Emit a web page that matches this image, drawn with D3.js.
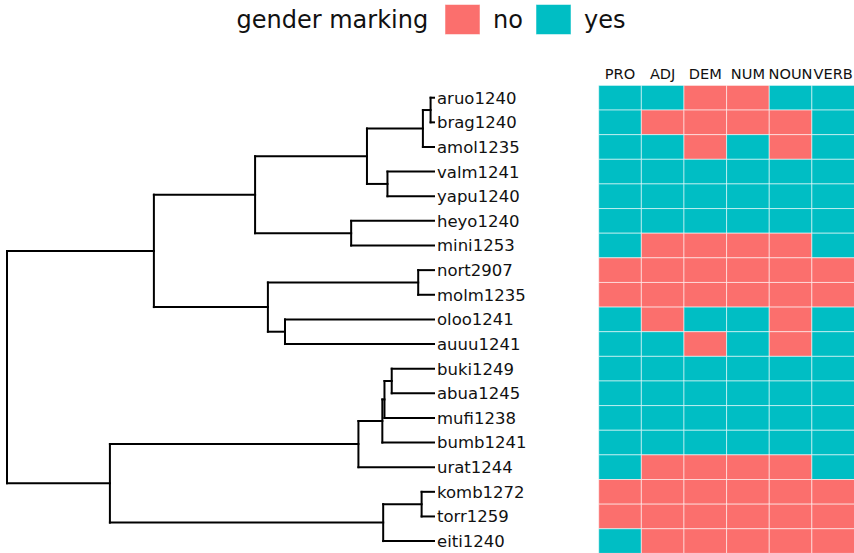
<!DOCTYPE html>
<html>
<head>
<meta charset="utf-8">
<script src="https://cdn.jsdelivr.net/npm/d3@7"></script>
<style>
  html, body { margin: 0; padding: 0; background: #fff; }
  svg { display: block; font-family: 'DejaVu Sans', sans-serif; }
</style>
</head>
<body>
<div id="chart"></div>
<script>
(function () {
  'use strict';

  // tip order, top to bottom
  var tipNames = [
    'aruo1240', 'brag1240', 'amol1235', 'valm1241', 'yapu1240', 'heyo1240',
    'mini1253', 'nort2907', 'molm1235', 'oloo1241', 'auuu1241', 'buki1249',
    'abua1245', 'mufi1238', 'bumb1241', 'urat1244', 'komb1272', 'torr1259',
    'eiti1240'
  ];

  var features = ['PRO', 'ADJ', 'DEM', 'NUM', 'NOUN', 'VERB'];

  // 1 = yes, 0 = no (same order as tipNames / features)
  var genderMarking = [
    [1, 1, 0, 0, 1, 1],
    [1, 0, 0, 0, 0, 1],
    [1, 1, 0, 1, 0, 1],
    [1, 1, 1, 1, 1, 1],
    [1, 1, 1, 1, 1, 1],
    [1, 1, 1, 1, 1, 1],
    [1, 0, 0, 0, 0, 1],
    [0, 0, 0, 0, 0, 0],
    [0, 0, 0, 0, 0, 0],
    [1, 0, 1, 1, 0, 1],
    [1, 1, 0, 1, 0, 1],
    [1, 1, 1, 1, 1, 1],
    [1, 1, 1, 1, 1, 1],
    [1, 1, 1, 1, 1, 1],
    [1, 1, 1, 1, 1, 1],
    [1, 0, 0, 0, 0, 1],
    [0, 0, 0, 0, 0, 0],
    [0, 0, 0, 0, 0, 0],
    [1, 0, 0, 0, 0, 0]
  ];

  var legendLabels = ['no', 'yes'];

  // [id, parent, distance from root] (ultrametric, tips at 1)
  var treeNodes = [
    ['root', null, 0],
    ['A', 'root', 0.344],
    ['B', 'A', 0.581],
    ['C', 'B', 0.843],
    ['D', 'C', 0.974],
    ['E', 'D', 0.992],
    ['aruo1240', 'E', 1],
    ['brag1240', 'E', 1],
    ['amol1235', 'D', 1],
    ['F', 'C', 0.891],
    ['valm1241', 'F', 1],
    ['yapu1240', 'F', 1],
    ['G', 'B', 0.806],
    ['heyo1240', 'G', 1],
    ['mini1253', 'G', 1],
    ['H', 'A', 0.611],
    ['I', 'H', 0.963],
    ['nort2907', 'I', 1],
    ['molm1235', 'I', 1],
    ['J', 'H', 0.651],
    ['oloo1241', 'J', 1],
    ['auuu1241', 'J', 1],
    ['K', 'root', 0.241],
    ['L', 'K', 0.823],
    ['M', 'L', 0.879],
    ['N', 'M', 0.884],
    ['O', 'N', 0.901],
    ['buki1249', 'O', 1],
    ['abua1245', 'O', 1],
    ['mufi1238', 'N', 1],
    ['bumb1241', 'M', 1],
    ['urat1244', 'L', 1],
    ['P', 'K', 0.881],
    ['Q', 'P', 0.971],
    ['komb1272', 'Q', 1],
    ['torr1259', 'Q', 1],
    ['eiti1240', 'P', 1]
  ];

  var COL = { no: '#FB6F6D', yes: '#00BEC4', line: '#000', text: '#111' };

  var W = 854, H = 553;

  var svg = d3.select('#chart').append('svg')
    .attr('width', W).attr('height', H);

  var x = d3.scaleLinear().domain([0, 1]).range([7, 434]);
  var yBand = d3.scaleBand().domain(tipNames).range([85.4, 553.4]).padding(0);
  var xBand = d3.scaleBand().domain(features).range([598.7, 854.5]).padding(0);

  // ---- tree
  var root = d3.stratify()
    .id(function (d) { return d[0]; })
    .parentId(function (d) { return d[1]; })(treeNodes);

  root.eachAfter(function (n) {
    n.px = x(n.data[2]);
    if (!n.children) {
      n.py = yBand(n.id) + yBand.bandwidth() / 2;
    } else {
      n.py = d3.mean(n.children, function (c) { return c.py; });
    }
  });

  var gTree = svg.append('g')
    .attr('fill', 'none')
    .attr('stroke', COL.line)
    .attr('stroke-width', 2)
    .attr('stroke-linecap', 'square');

  root.descendants().forEach(function (n) {
    if (n.parent) {
      gTree.append('line')
        .attr('x1', n.parent.px).attr('x2', n.px)
        .attr('y1', n.py).attr('y2', n.py);
    }
    if (n.children) {
      var ys = n.children.map(function (c) { return c.py; });
      gTree.append('line')
        .attr('x1', n.px).attr('x2', n.px)
        .attr('y1', d3.min(ys)).attr('y2', d3.max(ys));
    }
  });

  svg.append('g').selectAll('text.tip')
    .data(root.leaves())
    .join('text')
    .attr('class', 'tip')
    .attr('x', function (n) { return n.px + 3; })
    .attr('y', function (n) { return n.py; })
    .attr('dy', '0.36em')
    .attr('font-size', 16.5)
    .attr('fill', COL.text)
    .text(function (n) { return n.id; });

  // ---- heatmap
  var cells = [];
  tipNames.forEach(function (t, i) {
    features.forEach(function (f, j) {
      cells.push({ tip: t, feat: f, v: genderMarking[i][j] });
    });
  });

  svg.append('g').selectAll('rect.cell')
    .data(cells)
    .join('rect')
    .attr('class', 'cell')
    .attr('x', function (d) { return xBand(d.feat); })
    .attr('y', function (d) { return yBand(d.tip); })
    .attr('width', xBand.bandwidth())
    .attr('height', yBand.bandwidth())
    .attr('fill', function (d) { return d.v ? COL.yes : COL.no; })
    .attr('stroke', '#fff')
    .attr('stroke-opacity', 0.55)
    .attr('stroke-width', 1);

  svg.append('g').selectAll('text.col')
    .data(features)
    .join('text')
    .attr('class', 'col')
    .attr('x', function (f) { return xBand(f) + xBand.bandwidth() / 2; })
    .attr('y', 78.5)
    .attr('text-anchor', 'middle')
    .attr('font-size', 14.6)
    .attr('fill', COL.text)
    .text(function (f) { return f; });

  // ---- legend
  var lg = svg.append('g');
  lg.append('text')
    .attr('x', 236.5).attr('y', 27.5)
    .attr('font-size', 24).attr('fill', COL.text)
    .text('gender marking');

  var keyX = [445, 536];
  legendLabels.forEach(function (lab, i) {
    lg.append('rect')
      .attr('x', keyX[i]).attr('y', 4.5)
      .attr('width', 35).attr('height', 30)
      .attr('fill', COL[lab])
      .attr('stroke', '#fff').attr('stroke-opacity', 0.5);
    lg.append('text')
      .attr('x', keyX[i] + 48).attr('y', 27.5)
      .attr('font-size', 24).attr('fill', COL.text)
      .text(lab);
  });
}());
</script>
</body>
</html>
